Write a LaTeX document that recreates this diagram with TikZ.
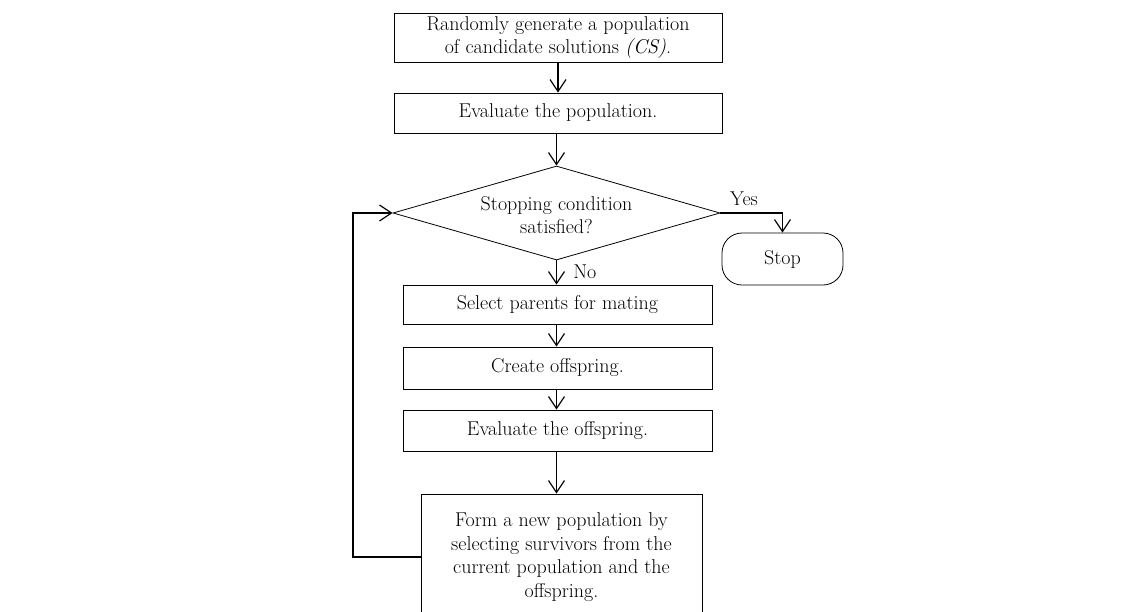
\documentclass[tikz,border=0pt]{standalone}
\usetikzlibrary{arrows.meta,shapes.geometric,shapes.misc}
\begin{document}
\begin{tikzpicture}[x=0.75pt,y=-0.75pt,
  every node/.style={font=\fontsize{15}{17.8}\selectfont, text=black},
  box/.style={draw, line width=0.6pt, rectangle, inner sep=0pt, align=center},
  arr/.style={line width=0.9pt, -{Straight Barb[length=9pt,width=12pt,line width=0.9pt]}},
  lbl/.style={inner sep=0pt}]
\useasboundingbox (0,0) rectangle (1145,611);
\fill[white] (0,0) rectangle (1145,611);
\node[box, minimum width=328*0.75pt, minimum height=49*0.75pt] (b1) at (558,37.5)
  {Randomly generate a population\\ of candidate solutions \textit{(CS)}.};
\node[box, minimum width=328*0.75pt, minimum height=40*0.75pt] (b2) at (558,113)
  {Evaluate the population.};
\node[draw, line width=0.6pt, diamond, inner sep=0pt, minimum width=327*0.75pt, minimum height=94*0.75pt] (d) at (556.5,213) {};
\node[lbl, align=center] (dt) at (556.5,215) {Stopping condition\\ satisfied?};
\node[draw, line width=0.6pt, rectangle, rounded corners=15pt, inner sep=0pt, minimum width=121*0.75pt, minimum height=52*0.75pt] (stop) at (782.5,259) {Stop};
\node[box, minimum width=309*0.75pt, minimum height=39*0.75pt] (b3) at (557.5,304.5) {Select parents for mating};
\node[box, minimum width=309*0.75pt, minimum height=42*0.75pt] (b4) at (557.5,368) {Create offspring.};
\node[box, minimum width=309*0.75pt, minimum height=41*0.75pt] (b5) at (557.5,430.5) {Evaluate the offspring.};
\node[box, minimum width=281*0.75pt, minimum height=126*0.75pt] (b6) at (561.5,557)
  {Form a new population by\\ selecting survivors from the\\ current population and the\\ offspring.};
\coordinate (fbx) at (353,0);
\draw[arr] (b1.south -| b2.north) -- (b2.north);
\draw[arr] (b2.south -| d.north) -- (d.north);
\draw[arr] (d.south) -- (b3.north -| d.south);
\node[lbl, anchor=west] (no) at (573,272) {No};
\draw[arr] (d.east) -| (stop.north);
\node[lbl] (yes) at (744,199) {Yes};
\draw[arr] (b3.south -| d.south) -- (b4.north -| d.south);
\draw[arr] (b4.south -| d.south) -- (b5.north -| d.south);
\draw[arr] (b5.south -| d.south) -- (b6.north -| d.south);
\draw[arr] (b6.west) -| (fbx |- d.west) -- (d.west);
\end{tikzpicture}
\end{document}
